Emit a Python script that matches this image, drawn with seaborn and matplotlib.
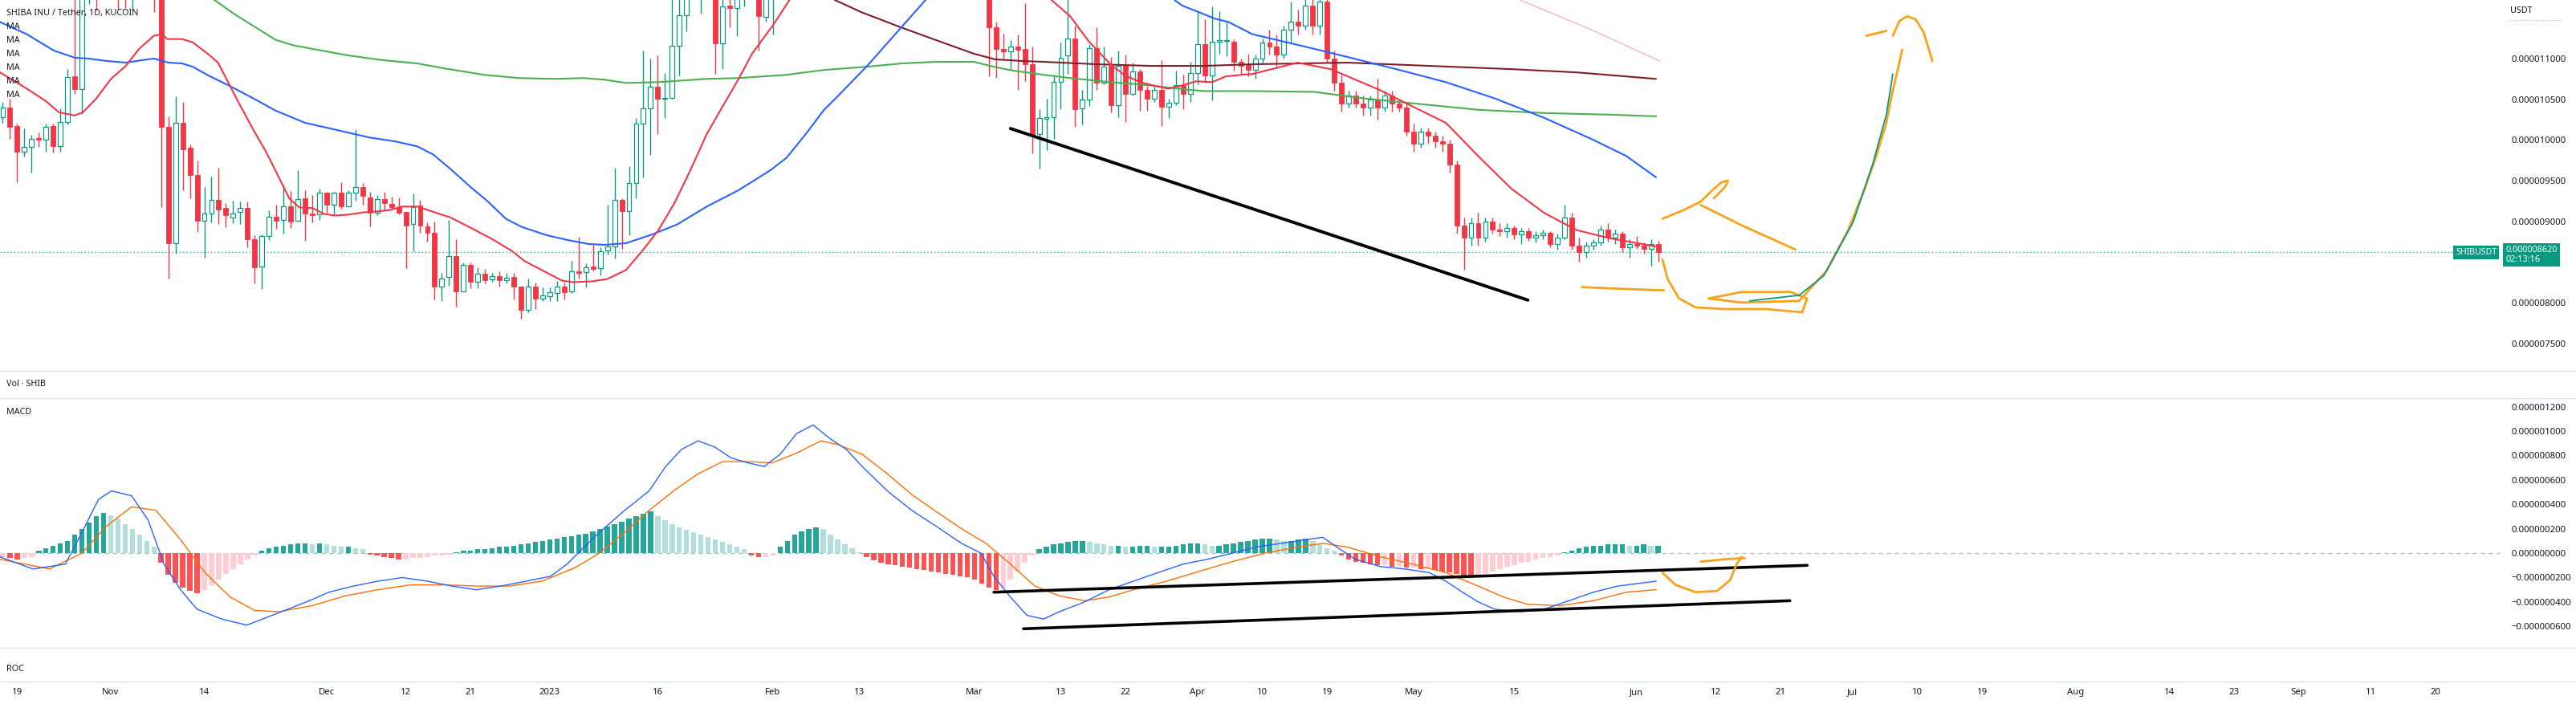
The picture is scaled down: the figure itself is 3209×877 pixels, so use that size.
import numpy as np
import pandas as pd
import matplotlib
matplotlib.use("Agg")
import matplotlib.pyplot as plt
import matplotlib.transforms as mtransforms
from matplotlib.lines import Line2D
import seaborn as sns

# ---------------- DATA (price in units of 1e-6 USDT, day 0 = 2022-10-19) ----------------
FIRST_DAY = -2  # first candle 2022-10-17

opens = [10.28,10.40,10.17,9.85,9.91,10.02,10.00,10.17,9.92,10.22,
         10.78,10.62,12.00,13.50,12.80,12.50,13.20,12.60,12.30,13.40,
         13.70,13.10,12.50,10.16,8.73,10.21,9.90,9.57,9.01,9.09,
         9.26,9.16,9.05,9.11,9.16,8.78,8.44,8.82,9.06,9.02,
         9.18,9.01,9.28,9.09,9.08,9.35,9.20,9.35,9.18,9.35,
         9.42,9.29,9.10,9.27,9.21,9.17,9.11,8.97,9.19,8.94,
         8.86,8.20,8.31,8.57,8.14,8.46,8.26,8.35,8.29,8.32,
         8.28,8.31,8.20,7.91,8.20,8.05,8.08,8.12,8.20,8.14,
         8.38,8.37,8.44,8.42,8.64,8.69,9.26,9.12,9.47,10.20,
         10.39,10.65,10.51,10.52,11.16,11.53,11.90,12.10,12.25,12.00,
         11.19,11.65,11.62,11.85,11.95,12.05,11.51,11.90,12.30,12.40,
         12.70,13.00,14.00,14.80,13.90,13.70,13.00,12.60,12.30,12.10,
         12.50,13.50,13.30,13.90,13.70,13.60,13.40,13.00,13.10,12.80,
         12.60,12.70,12.50,12.40,12.30,12.20,12.10,12.00,11.38,11.12,
         11.09,11.15,11.12,10.93,10.07,10.26,10.28,10.71,11.04,11.25,
         10.39,10.50,11.13,10.70,10.91,10.43,10.92,10.57,10.84,10.61,
         10.51,10.61,10.41,10.46,10.67,10.57,10.82,11.18,10.79,11.21,
         11.22,11.21,10.96,10.92,10.86,11.00,11.20,11.15,11.05,11.35,
         11.45,11.40,11.65,11.40,11.70,11.00,10.70,10.45,10.55,10.45,
         10.40,10.50,10.40,10.55,10.45,10.40,10.10,9.95,10.10,10.05,
         9.98,9.95,9.70,8.95,8.80,8.98,8.80,9.00,8.90,8.88,
         8.92,8.84,8.88,8.80,8.83,8.86,8.72,8.80,9.05,8.70,
         8.62,8.70,8.74,8.90,8.80,8.85,8.68,8.72,8.70,8.66,
         8.72]
highs = [10.47,10.51,10.20,10.14,10.06,10.09,10.20,10.20,10.39,10.87,
         11.90,12.30,14.20,13.60,13.00,13.50,13.40,12.80,13.80,14.00,
         13.90,13.30,12.80,10.29,10.54,10.47,9.94,9.75,9.42,9.55,
         9.66,9.22,9.25,9.24,9.24,8.83,8.84,9.13,9.20,9.45,
         9.37,9.63,9.38,9.32,9.40,9.36,9.36,9.48,9.38,10.13,
         9.47,9.36,9.32,9.36,9.30,9.29,9.11,9.34,9.26,8.99,
         9.00,8.36,9.02,8.78,8.49,8.49,8.43,8.41,8.36,8.38,
         8.36,8.36,8.20,8.30,8.25,8.19,8.19,8.27,8.25,8.51,
         8.81,8.48,8.71,8.68,9.20,9.66,9.28,9.68,10.27,11.10,
         11.00,11.04,10.82,11.80,11.90,12.10,12.30,12.40,12.50,12.30,
         11.85,11.90,12.00,12.10,12.20,12.20,12.00,12.40,12.60,12.90,
         13.20,14.50,15.50,15.00,14.20,13.90,13.20,12.80,12.50,12.60,
         13.60,13.90,14.20,14.10,14.00,13.90,13.50,13.30,13.20,13.00,
         12.80,12.90,12.70,12.60,12.50,12.40,12.30,12.30,11.45,11.31,
         11.23,11.30,11.68,11.15,10.38,10.51,10.80,11.20,11.80,11.40,
         10.61,11.18,11.38,11.15,11.02,11.10,11.05,10.95,10.87,10.66,
         10.67,10.98,10.51,10.85,10.80,10.96,11.57,11.48,11.64,11.58,
         11.45,11.24,11.00,11.06,11.05,11.25,11.35,11.30,11.40,11.70,
         11.60,11.75,11.85,11.80,11.75,11.10,10.80,10.60,10.60,10.55,
         10.55,10.75,10.60,10.60,10.50,10.45,10.20,10.15,10.15,10.10,
         10.05,10.00,9.75,9.05,9.05,9.10,9.05,9.05,8.98,8.98,
         8.95,8.92,8.92,8.88,8.90,8.88,8.85,9.20,9.10,8.80,
         8.75,8.78,8.95,8.98,8.90,8.88,8.78,8.82,8.74,8.78,
         8.76]
lows = [10.21,10.01,9.48,9.80,9.60,9.91,9.85,9.84,9.85,10.19,
        10.57,10.32,11.67,11.59,11.90,12.20,11.60,11.62,11.59,13.00,
        12.80,11.57,9.17,8.30,8.60,9.38,9.28,8.87,8.55,8.99,
        8.97,8.93,8.98,8.97,8.68,8.24,8.17,8.77,8.91,8.85,
        8.92,9.00,8.76,8.99,9.02,9.10,9.08,9.15,9.18,9.25,
        9.20,8.94,9.07,9.14,9.14,9.08,8.42,8.63,8.86,8.75,
        8.04,8.02,8.21,7.95,8.14,8.18,8.18,8.24,8.26,8.20,
        8.24,8.04,7.80,7.88,7.92,8.02,8.02,8.02,8.04,8.12,
        8.30,8.19,8.38,8.33,8.59,8.54,8.66,8.83,9.28,9.54,
        9.82,10.07,10.27,10.51,10.79,11.34,11.80,11.55,11.90,10.81,
        10.87,11.38,11.28,11.64,11.85,11.10,11.45,11.30,12.00,12.20,
        12.50,12.90,13.50,13.60,13.40,12.80,12.40,12.10,11.95,11.98,
        12.40,13.10,13.20,13.50,13.30,13.20,12.80,12.80,12.60,12.40,
        12.30,12.40,12.20,12.10,12.00,11.95,11.90,10.78,10.76,11.00,
        10.86,10.61,10.72,9.83,9.65,9.87,10.01,10.38,10.81,10.16,
        10.19,10.42,10.61,10.68,10.34,10.28,10.22,10.55,10.36,10.36,
        10.47,10.17,10.27,10.43,10.38,10.47,10.68,10.70,10.49,11.06,
        11.03,10.85,10.80,10.78,10.75,10.95,11.05,10.90,11.00,11.20,
        11.30,11.35,11.30,11.30,10.95,10.60,10.35,10.40,10.40,10.30,
        10.30,10.25,10.35,10.35,10.35,10.05,9.85,9.90,9.95,9.90,
        9.85,9.60,8.85,8.40,8.70,8.70,8.75,8.85,8.82,8.80,
        8.78,8.72,8.76,8.74,8.78,8.68,8.65,8.78,8.65,8.50,
        8.55,8.65,8.70,8.75,8.72,8.62,8.55,8.66,8.60,8.45,
        8.50]
closes = [10.40,10.16,9.85,9.91,10.01,10.00,10.16,9.92,10.22,10.77,
          10.62,12.00,13.50,12.80,12.50,13.20,12.60,12.30,13.40,13.70,
          13.10,12.50,10.16,8.73,10.21,9.88,9.57,9.01,9.09,9.26,
          9.14,9.07,9.09,9.16,8.78,8.43,8.82,9.06,9.01,9.18,
          9.00,9.27,9.09,9.07,9.35,9.20,9.35,9.18,9.35,9.42,
          9.31,9.10,9.27,9.22,9.17,9.10,8.95,9.17,8.95,8.86,
          8.20,8.30,8.57,8.14,8.46,8.26,8.35,8.28,8.32,8.28,
          8.30,8.20,7.91,8.20,8.05,8.09,8.13,8.20,8.13,8.38,
          8.36,8.43,8.41,8.63,8.69,9.26,9.12,9.47,10.20,10.39,
          10.65,10.51,10.52,11.16,11.53,11.90,12.10,12.25,12.00,11.19,
          11.64,11.62,11.85,11.95,12.05,11.52,11.90,12.30,12.40,12.70,
          13.00,14.00,14.80,13.90,13.70,13.00,12.60,12.30,12.10,12.50,
          13.50,13.30,13.90,13.70,13.60,13.40,13.00,13.10,12.80,12.60,
          12.70,12.50,12.40,12.30,12.20,12.10,12.00,11.38,11.12,11.09,
          11.15,11.11,10.93,10.06,10.27,10.28,10.71,11.01,11.25,10.38,
          10.50,11.13,10.70,10.90,10.43,10.91,10.57,10.84,10.61,10.51,
          10.61,10.41,10.46,10.67,10.57,10.82,11.18,10.79,11.21,11.23,
          11.23,10.96,10.91,10.86,11.00,11.20,11.15,11.05,11.35,11.45,
          11.40,11.65,11.40,11.70,11.00,10.70,10.45,10.55,10.45,10.40,
          10.50,10.40,10.55,10.45,10.40,10.10,9.95,10.10,10.05,9.98,
          9.95,9.70,8.95,8.80,8.98,8.80,9.00,8.90,8.88,8.92,
          8.84,8.88,8.80,8.83,8.86,8.72,8.80,9.05,8.70,8.62,
          8.70,8.74,8.90,8.80,8.85,8.68,8.72,8.70,8.66,8.72,
          8.62]
last_price = 8.62

# Moving averages (day, value); None = line leaves the visible range
ma_red_day = [-2.39, 1.33, 3.94, 5.79, 7.95, 9.13, 11.0, 13.04, 15.09, 16.94, 18.99, 20.11, 20.85, 22.9, 24.38, 26.61,
              27.9, 30.7, 32.9, 34.6, 36.3, 37.8, 39.2, 41.1, 42.6, 44.1, 45.9, 48.2, 50.0, 51.9, 53.4, 55.6,
              59.0, 60.1, 63.0, 66.0, 68.8, 70.5, 73.1, 75.7, 77.2, 79.8, 82.0, 84.6, 86.8, 89.1, 91.3, 93.5,
              95.8, 98.0, 100.3, 102.1, 105.1, 107.3, None, 143.7, 146.3, 148.9, 151.9, 153.8, 156.0, 158.3,
              159.9, 161.9, 163.8, 166.0, 167.9, 170.1, 171.6, 177.9, 182.5, 189.4, 193.9, 198.5, 203.0, 207.6,
              212.2, 216.7, 221.3, 227.7]
ma_red_val = [10.83, 10.63, 10.48, 10.34, 10.30, 10.34, 10.51, 10.75, 10.91, 11.12, 11.28, 11.30, 11.24, 11.24, 11.20, 11.05,
              10.95, 10.47, 10.11, 9.85, 9.55, 9.28, 9.17, 9.16, 9.09, 9.07, 9.08, 9.11, 9.12, 9.14, 9.18, 9.18,
              9.08, 9.05, 8.92, 8.78, 8.63, 8.51, 8.39, 8.27, 8.25, 8.26, 8.29, 8.40, 8.63, 8.89, 9.22, 9.62,
              10.07, 10.41, 10.76, 11.06, 11.42, 11.72, None, 11.72, 11.52, 11.21, 10.93, 10.80, 10.71, 10.66,
              10.63, 10.67, 10.72, 10.71, 10.78, 10.80, 10.81, 10.95, 10.87, 10.61, 10.41, 10.21, 9.80, 9.40,
              9.10, 8.89, 8.79, 8.69]
ma_blue_day = [-2.39, 1.33, 5.05, 8.02, 9.88, 12.48, 15.09, 17.32, 18.99, 21.04, 22.9, 24.38, 26.61, 29.6, 32.6,
               35.9, 40.0, 44.5, 48.9, 52.6, 55.6, 57.8, 60.1, 63.0, 65.3, 67.9, 70.1, 73.5, 76.4, 79.4, 81.6,
               84.6, 88.3, 91.7, 95.8, 100.2, 104.7, 106.9, 109.9, 112.1, 113.6, 118.1, 122.9, 126.2, None,
               160.8, 161.9, 164.2, 166.4, 168.3, 171.6, 180.2, 184.8, 191.6, 198.5, 205.3, 212.2, 219.0, 223.6, 227.7]
ma_blue_val = [11.45, 11.30, 11.10, 11.01, 11.00, 10.97, 10.95, 10.98, 11.00, 10.95, 10.94, 10.90, 10.79, 10.66, 10.52,
               10.36, 10.21, 10.12, 10.03, 9.98, 9.92, 9.82, 9.65, 9.42, 9.25, 9.03, 8.93, 8.83, 8.77, 8.72, 8.71,
               8.73, 8.84, 8.96, 9.18, 9.38, 9.63, 9.78, 10.11, 10.37, 10.50, 10.91, 11.39, 11.72, None,
               11.72, 11.65, 11.57, 11.49, 11.45, 11.30, 11.12, 11.02, 10.87, 10.71, 10.51, 10.27, 10.00, 9.80, 9.54]
ma_green_day = [27.4, 30.3, 35.9, 38.5, 42.2, 45.9, 50.8, 55.6, 59.3, 64.9, 69.7, 74.9, 78.7, 81.6, 84.6, 89.1,
                95.8, 100.2, 106.9, 112.1, 118.1, 122.9, 127.7, 132.9, 135.2, 137.8, 142.6, 146.3, 151.9, 157.5,
                161.2, 164.9, 171.6, 180.2, 187.1, 193.9, 203.0, 212.2, 221.3, 227.7]
ma_green_val = [11.72, 11.54, 11.23, 11.16, 11.10, 11.04, 10.98, 10.94, 10.88, 10.80, 10.76, 10.75, 10.76, 10.74, 10.70, 10.71,
                10.75, 10.76, 10.80, 10.86, 10.90, 10.94, 10.96, 10.96, 10.91, 10.86, 10.80, 10.76, 10.71, 10.67,
                10.63, 10.60, 10.60, 10.59, 10.51, 10.45, 10.37, 10.33, 10.31, 10.29]
ma_maroon_day = [113.6, 117.3, 122.9, 128.5, 132.9, 135.9, 139.6, 142.6, 150.0, 157.5, 164.9, 171.6, 184.8, 196.2,
                 207.6, 216.7, 227.7]
ma_maroon_val = [11.72, 11.57, 11.38, 11.20, 11.06, 10.99, 10.97, 10.96, 10.93, 10.91, 10.91, 10.93, 10.95, 10.91,
                 10.87, 10.83, 10.75]
ma_pink_day = [208.8, 218.6, 228.2]
ma_pink_val = [11.72, 11.36, 10.97]

# MACD (units of 1e-6), histogram one value per candle
macd_hist = [-0.03,-0.04,-0.05,-0.04,-0.03,
             0.02,0.04,0.06,0.08,0.10,
             0.15,0.20,0.25,0.30,0.33,
             0.31,0.28,0.24,0.20,0.15,0.10,0.05,
             -0.08,-0.18,-0.24,-0.28,-0.31,-0.33,
             -0.30,-0.26,-0.22,-0.17,-0.13,-0.09,-0.05,-0.02,
             0.02,0.04,0.05,0.06,0.07,0.08,0.08,0.07,0.08,0.07,0.06,0.05,0.05,0.04,0.03,
             -0.01,-0.02,-0.03,-0.04,-0.05,-0.05,-0.04,-0.04,-0.03,-0.02,-0.02,-0.01,
             0.01,0.02,0.02,0.03,0.03,0.04,0.05,0.05,0.06,0.07,0.08,0.09,
             0.10,0.11,0.12,0.13,0.14,0.15,0.16,0.18,0.20,0.22,0.24,0.26,0.28,0.30,0.32,0.34,
             0.30,0.27,0.24,0.21,0.19,0.17,0.15,0.13,0.11,0.09,0.07,0.05,0.03,
             -0.02,-0.03,-0.03,-0.02,
             0.05,0.10,0.15,0.18,0.20,0.21,0.20,
             0.15,0.11,0.07,0.04,0.01,
             -0.03,-0.06,-0.08,-0.09,-0.10,-0.11,-0.12,-0.13,-0.14,-0.15,-0.16,-0.17,-0.18,-0.19,-0.20,-0.22,-0.25,-0.28,-0.30,
             -0.28,-0.22,-0.15,-0.08,-0.02,
             0.03,0.05,0.07,0.08,0.09,0.10,0.10,0.09,0.08,
             0.07,0.06,0.06,0.05,0.05,0.06,0.06,0.05,0.05,0.05,
             0.06,0.07,0.08,0.08,0.07,0.06,0.06,0.07,0.08,0.09,
             0.10,0.11,0.12,0.12,0.11,0.10,0.10,0.11,0.12,0.10,
             0.07,0.04,0.02,-0.02,-0.05,
             -0.07,-0.08,-0.09,-0.10,-0.10,-0.11,-0.11,-0.12,-0.12,-0.13,-0.13,-0.14,-0.15,-0.16,-0.17,
             -0.19,-0.20,-0.19,-0.17,-0.15,
             -0.13,-0.11,-0.10,-0.08,-0.07,-0.05,-0.04,-0.03,-0.02,
             0.01,0.02,0.04,0.05,0.06,0.06,0.07,0.07,0.07,0.06,0.06,0.07,0.06,0.06]
macd_day = [-2.4,2.2,6.7,9.0,11.3,13.1,15.9,18.2,20.4,22.7,
            25.0,28.4,31.9,34.1,37.6,41.0,43.3,46.7,50.1,53.5,
            57.0,60.4,63.8,67.2,70.7,74.1,76.4,78.6,80.9,84.4,
            87.8,90.1,92.3,94.6,96.9,99.2,101.5,103.8,106.0,108.3,
            110.6,112.9,115.2,117.4,120.9,124.3,127.7,131.2,133.9,135.7,
            138.0,140.3,142.6,144.8,148.3,151.7,155.1,158.5,162.0,165.4,
            168.8,172.2,175.6,179.1,181.4,183.6,185.9,189.4,192.8,196.2,
            198.5,200.8,203.0,205.3,208.8,212.2,215.6,219.0,222.4,227.7]
macd_val = [-0.03,-0.13,-0.09,0.17,0.44,0.51,0.47,0.27,-0.09,-0.30,
            -0.46,-0.54,-0.59,-0.54,-0.46,-0.38,-0.32,-0.27,-0.23,-0.20,
            -0.23,-0.27,-0.30,-0.27,-0.23,-0.19,-0.09,0.04,0.17,0.35,
            0.51,0.71,0.85,0.92,0.87,0.78,0.74,0.71,0.81,0.98,
            1.05,0.94,0.85,0.71,0.51,0.35,0.22,0.08,0.0,-0.19,
            -0.36,-0.51,-0.54,-0.48,-0.40,-0.30,-0.23,-0.16,-0.09,-0.05,
            0.0,0.05,0.08,0.11,0.13,0.04,-0.05,-0.11,-0.13,-0.16,
            -0.23,-0.32,-0.40,-0.46,-0.48,-0.46,-0.39,-0.32,-0.27,-0.23]
signal_day = [-2.4,4.5,9.0,12.4,15.9,19.3,22.7,26.1,29.6,33.0,
              36.4,41.0,45.6,50.1,54.7,59.2,63.8,68.4,72.9,77.5,
              80.9,84.4,87.8,91.2,94.6,98.0,101.5,104.9,108.3,111.7,
              114.0,117.4,120.9,124.3,127.7,131.2,134.6,138.0,141.4,144.8,
              148.3,151.7,155.1,159.7,164.2,168.8,173.4,177.9,181.4,184.8,
              189.4,193.9,198.5,203.0,206.5,209.9,214.4,219.0,223.6,227.7]
signal_val = [-0.05,-0.13,0.0,0.22,0.38,0.35,0.11,-0.16,-0.36,-0.47,
              -0.48,-0.43,-0.35,-0.30,-0.26,-0.26,-0.27,-0.27,-0.23,-0.12,
              0.0,0.17,0.35,0.51,0.65,0.75,0.75,0.74,0.82,0.92,
              0.89,0.81,0.65,0.48,0.34,0.20,0.08,-0.09,-0.27,-0.35,
              -0.39,-0.36,-0.30,-0.23,-0.15,-0.07,0.0,0.05,0.08,0.05,
              -0.03,-0.09,-0.16,-0.27,-0.36,-0.42,-0.43,-0.39,-0.32,-0.30]

# Axis labels
price_ticks = [7.5, 8.0, 9.0, 9.5, 10.0, 10.5, 11.0]
macd_ticks = [-0.6, -0.4, -0.2, 0.0, 0.2, 0.4, 0.6, 0.8, 1.0, 1.2]
tick_dates = ["2022-10-19", "2022-11-01", "2022-11-14", "2022-12-01", "2022-12-12", "2022-12-21",
              "2023-01-01", "2023-01-16", "2023-02-01", "2023-02-13", "2023-03-01", "2023-03-13",
              "2023-03-22", "2023-04-01", "2023-04-10", "2023-04-19", "2023-05-01", "2023-05-15",
              "2023-06-01", "2023-06-12", "2023-06-21", "2023-07-01", "2023-07-10", "2023-07-19",
              "2023-08-01", "2023-08-14", "2023-08-23", "2023-09-01", "2023-09-11", "2023-09-20"]
tick_labels = ["19", "Nov", "14", "Dec", "12", "21", "2023", "16", "Feb", "13", "Mar", "13", "22", "Apr",
               "10", "19", "May", "15", "Jun", "12", "21", "Jul", "10", "19", "Aug", "14", "23", "Sep", "11", "20"]

# User drawings (day, value)
trend_price_day = [138.0, 209.9]
trend_price_val = [10.14, 8.03]
trend_macd_hi_day = [135.7, 248.7]
trend_macd_hi_val = [-0.32, -0.10]
trend_macd_lo_day = [139.8, 246.3]
trend_macd_lo_val = [-0.62, -0.39]
stroke_hook_day = [228.6, 231.6, 233.9, 235.5, 236.8, 237.7, 237.3, 235.7]
stroke_hook_val = [9.03, 9.14, 9.24, 9.38, 9.48, 9.50, 9.42, 9.28]
stroke_down_day = [233.9, 239.6, 244.1, 247.1]
stroke_down_val = [9.20, 8.95, 8.77, 8.65]
stroke_flat_day = [217.4, 222.5, 228.8]
stroke_flat_val = [8.19, 8.17, 8.15]
stroke_big_day = [228.6, 229.3, 230.9, 233.2, 237.3, 243.0, 248.0, 248.7, 246.4, 239.6, 235.0, 239.6, 247.6, 248.7,
                  251.4, 254.4, 256.7, 258.3, 259.7, 260.6, 261.3, 261.9]
stroke_big_val = [8.53, 8.29, 8.05, 7.94, 7.92, 7.92, 7.88, 8.05, 8.13, 8.13, 8.05, 8.00, 8.02, 8.13,
                  8.39, 8.89, 9.40, 9.80, 10.21, 10.61, 10.87, 11.11]
stroke_dash_day = [256.9, 259.7]
stroke_dash_val = [11.28, 11.34]
stroke_curl_day = [260.6, 261.5, 262.6, 263.8, 264.9, 266.1]
stroke_curl_val = [11.28, 11.46, 11.52, 11.48, 11.32, 10.97]
stroke_teal_day = [240.7, 247.6, 251.0, 255.1, 257.8, 259.7, 260.6]
stroke_teal_val = [8.02, 8.09, 8.33, 8.99, 9.70, 10.31, 10.81]
stroke_macd1_day = [228.6, 230.4, 233.2, 236.2, 238.0, 238.9, 239.6]
stroke_macd1_val = [-0.16, -0.26, -0.32, -0.31, -0.22, -0.09, -0.03]
stroke_macd2_day = [233.9, 237.3, 240.0]
stroke_macd2_val = [-0.07, -0.05, -0.04]

# ---------------- STYLE ----------------
sns.set_theme(style="white")
plt.rcParams["font.family"] = ["Noto Sans", "DejaVu Sans"]
TXT = "#131722"
UP = "#089981"
DOWN = "#F23645"
SEP = "#E0E3EB"
W, H = 3209, 877
PLOT_RIGHT = 3115


def rect(x0, y0, x1, y1):
    return [x0 / W, 1 - y1 / H, (x1 - x0) / W, (y1 - y0) / H]


def segments(days, vals):
    segs, cx, cy = [], [], []
    for d, v in zip(days, vals):
        if d is None or v is None:
            if cx:
                segs.append((cx, cy))
            cx, cy = [], []
        else:
            cx.append(d)
            cy.append(v)
    if cx:
        segs.append((cx, cy))
    return segs


n = len(closes)
assert len(opens) == n and len(highs) == n and len(lows) == n and len(macd_hist) == n, \
    (len(opens), len(highs), len(lows), len(closes), len(macd_hist))
x = np.arange(FIRST_DAY, FIRST_DAY + n)
O = np.array(opens); Hh = np.array(highs); L = np.array(lows); C = np.array(closes)
day0 = pd.Timestamp("2022-10-19")
tick_days = [(pd.Timestamp(t) - day0).days for t in tick_dates]
x_min = (0 - 21.4) / 8.966
x_max = (PLOT_RIGHT - 21.4) / 8.966

fig = plt.figure(figsize=(W / 100, H / 100), dpi=100)
fig.patch.set_facecolor("white")

ax = fig.add_axes(rect(0, 0, PLOT_RIGHT, 462))
ax_m = fig.add_axes(rect(0, 496, PLOT_RIGHT, 807), sharex=ax)
ax_t = fig.add_axes(rect(0, 855, PLOT_RIGHT, 856), sharex=ax)

for a in (ax, ax_m, ax_t):
    for s in a.spines.values():
        s.set_visible(False)
    a.set_facecolor("none")
    a.grid(False)

# ---- candles ----
up = C >= O
ax.vlines(x, L, Hh, colors=np.where(up, UP, DOWN), linewidth=1.0, zorder=2)
ax.bar(x[up], C[up] - O[up], bottom=O[up], width=0.66, facecolor="white", edgecolor=UP,
       linewidth=0.9, zorder=3)
ax.bar(x[~up], O[~up] - C[~up], bottom=C[~up], width=0.66, facecolor=DOWN, edgecolor=DOWN,
       linewidth=0.6, zorder=3)

# ---- moving averages ----
for days, vals, col, lw in [(ma_green_day, ma_green_val, "#4CAF50", 1.5),
                            (ma_maroon_day, ma_maroon_val, "#7F1D2A", 1.5),
                            (ma_pink_day, ma_pink_val, "#F6B3C6", 1.0),
                            (ma_blue_day, ma_blue_val, "#2962FF", 1.5),
                            (ma_red_day, ma_red_val, "#F23645", 1.5)]:
    for sx, sy in segments(days, vals):
        sns.lineplot(x=sx, y=sy, ax=ax, color=col, linewidth=lw, sort=False,
                     estimator=None, legend=False, zorder=4)

ax.axhline(last_price, color=UP, linewidth=0.9, linestyle=(0, (1, 2.5)), zorder=1)

# ---- drawings on price pane ----
ax.plot(trend_price_day, trend_price_val, color="black", linewidth=2.8, solid_capstyle="round", zorder=6)
ORANGE = "#F7A21B"
for dd, vv in [(stroke_hook_day, stroke_hook_val), (stroke_down_day, stroke_down_val),
               (stroke_flat_day, stroke_flat_val), (stroke_big_day, stroke_big_val),
               (stroke_dash_day, stroke_dash_val), (stroke_curl_day, stroke_curl_val)]:
    ax.plot(dd, vv, color=ORANGE, linewidth=2.0, solid_capstyle="round", solid_joinstyle="round", zorder=6)
ax.plot(stroke_teal_day, stroke_teal_val, color=UP, linewidth=1.3, solid_capstyle="round", zorder=6)

ax.set_xlim(x_min, x_max)
ax.set_ylim(7.16, 11.72)
ax.yaxis.tick_right()
ax.set_yticks(price_ticks)
ax.set_yticklabels([f"{v * 1e-6:.9f}" for v in price_ticks])
ax.tick_params(axis="y", length=0, pad=10, labelsize=8.2, labelcolor=TXT)
ax.tick_params(axis="x", length=0, labelbottom=False)
ax.set_xlabel(""); ax.set_ylabel("")

# price labels
blend = mtransforms.blended_transform_factory(ax.transAxes, ax.transData)
ax.text(0.9985, last_price, "SHIBUSDT", transform=blend, ha="right", va="center", fontsize=7.6,
        fontweight="bold", color="white", zorder=10,
        bbox=dict(boxstyle="square,pad=0.28", facecolor=UP, edgecolor="none"))
fig.text(3121 / W, 1 - 306 / H, "0.000008620\n02:13:16", ha="left", va="top", fontsize=7.8,
         color="white", linespacing=1.15,
         bbox=dict(boxstyle="square,pad=0.3", facecolor=UP, edgecolor="none"))
fig.text(3127 / W, 1 - 14 / H, "USDT", ha="left", va="center", fontsize=7.8, color=TXT)
fig.add_artist(Line2D([3126 / W, 3191 / W], [1 - 25 / H] * 2, transform=fig.transFigure,
                      color="#B2B5BE", linewidth=0.8, linestyle=(0, (1, 1.5))))

# titles / legends
fig.text(8 / W, 1 - 16 / H, "SHIBA INU / Tether, 1D, KUCOIN", ha="left", va="center", fontsize=7.8,
         fontweight="semibold", color=TXT)
for i in range(6):
    fig.text(8 / W, 1 - (33.5 + 17 * i) / H, "MA", ha="left", va="center", fontsize=7.8, color=TXT)
fig.text(8 / W, 1 - 479 / H, "Vol · SHIB", ha="left", va="center", fontsize=7.8, color=TXT)
fig.text(8 / W, 1 - 514 / H, "MACD", ha="left", va="center", fontsize=7.8, color=TXT)
fig.text(8 / W, 1 - 833 / H, "ROC", ha="left", va="center", fontsize=7.8, color=TXT)

# ---- MACD pane ----
hist = np.array(macd_hist)
prev = np.r_[hist[0], hist[:-1]]
hcol = np.where(hist >= 0, np.where(hist >= prev, "#26A69A", "#B2DFDB"),
                np.where(hist < prev, "#FF5252", "#FFCDD2"))
ax_m.bar(x, hist, width=0.72, color=hcol, linewidth=0, zorder=2)
ax_m.axhline(0, color="#B2B5BE", linewidth=0.9, linestyle=(0, (4, 4)), zorder=1)
sns.lineplot(x=signal_day, y=signal_val, ax=ax_m, color="#FF6D00", linewidth=1.0, sort=False,
             estimator=None, legend=False, zorder=3)
sns.lineplot(x=macd_day, y=macd_val, ax=ax_m, color="#2962FF", linewidth=1.0, sort=False,
             estimator=None, legend=False, zorder=4)
ax_m.plot(trend_macd_hi_day, trend_macd_hi_val, color="black", linewidth=2.6, solid_capstyle="round", zorder=6)
ax_m.plot(trend_macd_lo_day, trend_macd_lo_val, color="black", linewidth=2.6, solid_capstyle="round", zorder=6)
ax_m.plot(stroke_macd1_day, stroke_macd1_val, color=ORANGE, linewidth=2.0, solid_capstyle="round", zorder=6)
ax_m.plot(stroke_macd2_day, stroke_macd2_val, color=ORANGE, linewidth=2.0, solid_capstyle="round", zorder=6)
ax_m.set_ylim(-0.776, 1.27)
ax_m.yaxis.tick_right()
ax_m.set_yticks(macd_ticks)
ax_m.set_yticklabels([f"{v * 1e-6:.9f}".replace("-", "\u2212") if v < 0 else f"{abs(v) * 1e-6:.9f}"
                      for v in macd_ticks])
ax_m.tick_params(axis="y", length=0, pad=10, labelsize=8.2, labelcolor=TXT)
ax_m.tick_params(axis="x", length=0, labelbottom=False)
ax_m.set_xlabel(""); ax_m.set_ylabel("")

# ---- time axis ----
ax_t.set_yticks([])
ax_t.set_xticks(tick_days)
ax_t.set_xticklabels(tick_labels)
ax_t.tick_params(axis="x", length=0, pad=1, labelsize=8.2, labelcolor=TXT)
for lab in ax_t.get_xticklabels():
    if lab.get_text() == "2023":
        lab.set_fontweight("bold")
ax_t.set_xlim(x_min, x_max)

# pane separators
for yy in (462, 496, 807, 849):
    fig.add_artist(Line2D([0, 1], [1 - yy / H] * 2, transform=fig.transFigure, color=SEP, linewidth=1.0))

fig.savefig("out.png", dpi=100, facecolor="white")
